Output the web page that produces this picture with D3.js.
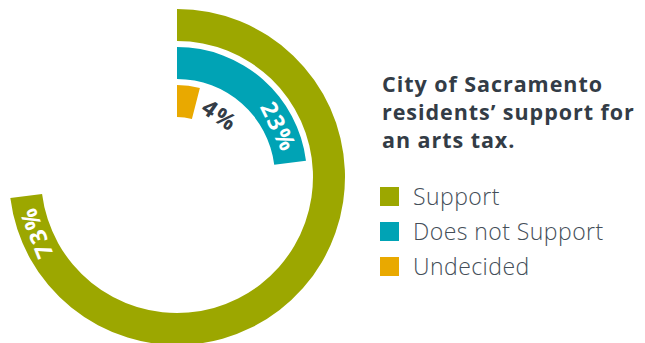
<!DOCTYPE html>
<html>
<head>
<meta charset="utf-8">
<script src="https://cdn.jsdelivr.net/npm/d3@7/dist/d3.min.js"></script>
<style>
  html, body { margin: 0; padding: 0; background: #ffffff; }
  svg { display: block; }
</style>
</head>
<body>
<svg id="chart" width="645" height="343"></svg>
<script>
// Survey responses (percent of residents)
const categories = ["Support", "Does not Support", "Undecided"];
const values = [73, 23, 4];
const labels = ["73%", "23%", "4%"];
const colors = ["#9ca700", "#00a3b5", "#e9a900"];
const titleLines = ["City of Sacramento", "residents\u2019 support for", "an arts tax."];

const svg = d3.select("#chart");
const cx = 177, cy = 177;

// Each category gets its own ring, outermost first
const radius = d3.scaleBand()
  .domain(categories.slice().reverse())
  .range([60, 168])
  .paddingInner(6 / 38)
  .paddingOuter(0);

const angle = d3.scaleLinear().domain([0, 100]).range([0, 2 * Math.PI]);

const g = svg.append("g").attr("transform", `translate(${cx},${cy})`);

const arc = d3.arc()
  .innerRadius(d => radius(d.cat))
  .outerRadius(d => radius(d.cat) + radius.bandwidth())
  .startAngle(0)
  .endAngle(d => angle(d.value));

const data = categories.map((c, i) => ({ cat: c, value: values[i], label: labels[i], color: colors[i] }));

g.selectAll("path.ring")
  .data(data)
  .join("path")
  .attr("class", "ring")
  .attr("d", arc)
  .attr("fill", d => d.color);

// Value labels set tangentially along each ring
function labelPos(d) {
  const r = radius(d.cat) + radius.bandwidth() / 2;
  const end = angle(d.value);
  // big rings: label sits inside the bar just before its end; small ring: just past it
  const a = d.value > 10 ? end - 38 / r : end + 27 / r;
  return { r, a };
}

g.selectAll("text.val")
  .data(data)
  .join("text")
  .attr("class", "val")
  .attr("transform", d => {
    const p = labelPos(d);
    const x = p.r * Math.sin(p.a), y = -p.r * Math.cos(p.a);
    return `translate(${x},${y}) rotate(${p.a * 180 / Math.PI})`;
  })
  .attr("text-anchor", "middle")
  .attr("dominant-baseline", "central")
  .attr("font-family", "'Open Sans', sans-serif")
  .attr("font-weight", 700)
  .attr("font-size", 23)
  .attr("letter-spacing", 2)
  .attr("fill", d => d.value > 10 ? "#ffffff" : "#333c46")
  .text(d => d.label);

// Title
svg.append("text")
  .attr("x", 382)
  .attr("font-family", "'Open Sans', sans-serif")
  .attr("font-weight", 700)
  .attr("font-size", 21.5)
  .attr("letter-spacing", 0.95)
  .attr("fill", "#333c46")
  .selectAll("tspan")
  .data(titleLines)
  .join("tspan")
  .attr("x", 382)
  .attr("y", (d, i) => 92 + i * 28)
  .text(d => d);

// Legend
const legend = svg.append("g").attr("transform", "translate(380,187)");
const item = legend.selectAll("g")
  .data(data)
  .join("g")
  .attr("transform", (d, i) => `translate(0,${i * 35})`);

item.append("rect")
  .attr("width", 19)
  .attr("height", 19)
  .attr("fill", d => d.color);

item.append("text")
  .attr("x", 33)
  .attr("y", 18)
  .attr("font-family", "'Open Sans', sans-serif")
  .attr("font-weight", 300)
  .attr("font-size", 23)
  .attr("letter-spacing", 0.45)
  .attr("fill", "#444e58")
  .text(d => d.cat);
</script>
</body>
</html>
